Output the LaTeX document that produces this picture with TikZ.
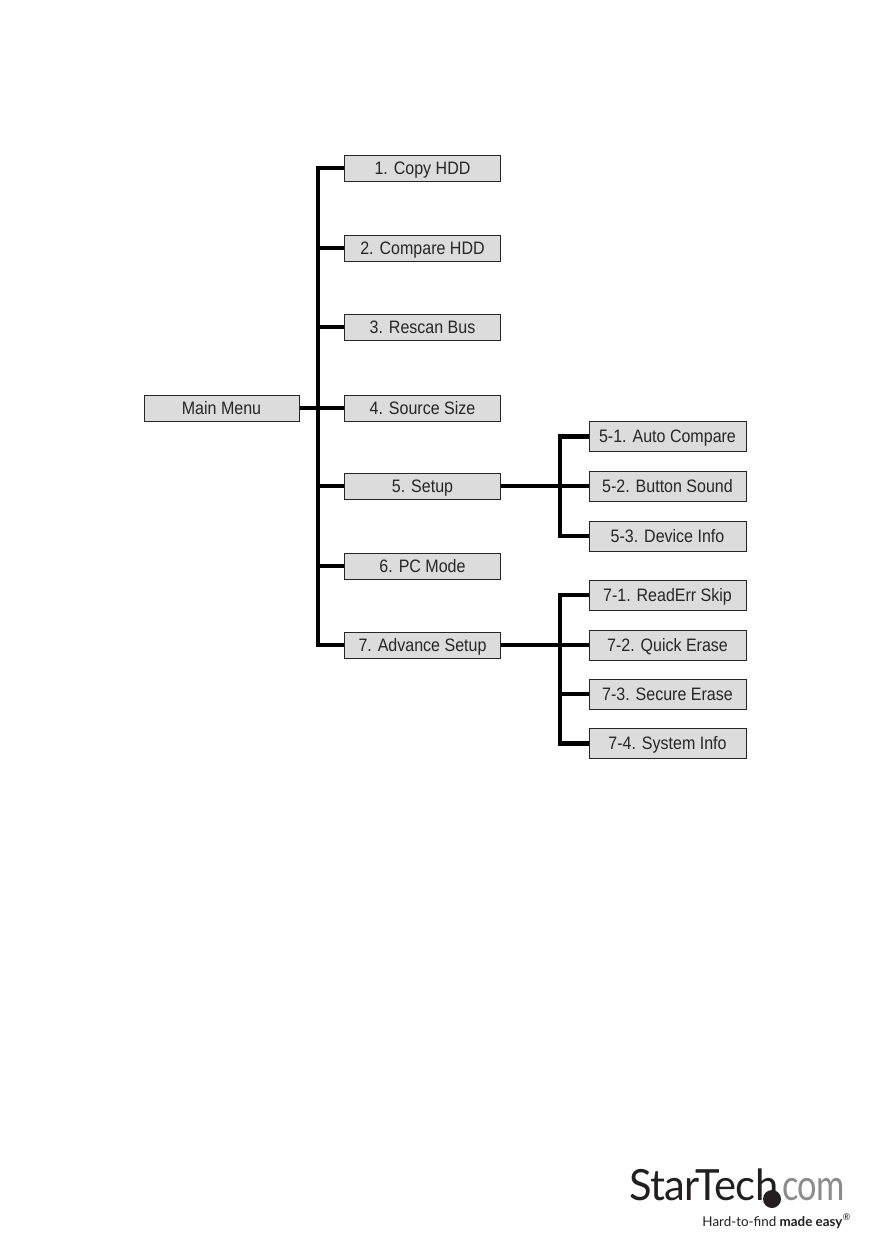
\documentclass[tikz,border=0pt]{standalone}
\usepackage{fontspec}
\setmainfont[FakeStretch=0.89]{Liberation Sans}
\newfontfamily\logofont[FakeStretch=0.97,LetterSpace=-1.5]{Lato}
\newfontfamily\comfont[FakeStretch=0.8,LetterSpace=-1.5]{Lato}
\newfontfamily\tagfont{Lato}
\definecolor{boxgray}{HTML}{DCDCDC}
\definecolor{logogray}{HTML}{8C8C8C}
\definecolor{logoblack}{HTML}{231F20}
\tikzset{
menubox/.style={draw=black!85,fill=boxgray,line width=1pt,inner sep=0pt,text=black!85,text height=15.6pt,text depth=3pt,font=\fontsize{18}{20}\selectfont},
mainbox/.style={menubox,minimum width=156pt,minimum height=26pt},
subbox/.style={menubox,minimum width=157pt,minimum height=30pt},
bus/.style={line width=4.5pt,line cap=butt,line join=miter}
}
\begin{document}
\begin{tikzpicture}[x=1pt,y=-1pt]
\useasboundingbox (0,0) rectangle (893,1259);
\node[mainbox,minimum width=155pt](main) at (221.5,408){Main Menu};
\node[mainbox](copy) at (422.5,168){1. Copy HDD};
\node[mainbox](compare) at (422.5,248){2. Compare HDD};
\node[mainbox](rescan) at (422.5,327){3. Rescan Bus};
\node[mainbox](source) at (422.5,408){4. Source Size};
\node[mainbox](setup) at (422.5,486){5. Setup};
\node[mainbox](pcmode) at (422.5,566){6. PC Mode};
\node[mainbox](advance) at (422.5,645){7. Advance Setup};
\node[subbox](auto) at (667.5,436.5){5-1. Auto Compare};
\node[subbox](button) at (667.5,486){5-2. Button Sound};
\node[subbox](device) at (667.5,536){5-3. Device Info};
\node[subbox](readerr) at (667.5,595){7-1. ReadErr Skip};
\node[subbox](quick) at (667.5,645){7-2. Quick Erase};
\node[subbox](secure) at (667.5,694){7-3. Secure Erase};
\node[subbox](system) at (667.5,743.5){7-4. System Info};
\coordinate (trunktop) at (318,168);
\coordinate (trunkbot) at (318,645);
\coordinate (setuptop) at (560,436.5);
\coordinate (setupbot) at (560,536);
\coordinate (advtop) at (560,595);
\coordinate (advbot) at (560,743.5);
\draw[bus](copy.west) -- (trunktop) -- (trunkbot) -- (advance.west);
\draw[bus](main.east) -- (source.west);
\draw[bus](compare.west) -- (compare.west -| trunktop);
\draw[bus](rescan.west) -- (rescan.west -| trunktop);
\draw[bus](setup.west) -- (setup.west -| trunktop);
\draw[bus](pcmode.west) -- (pcmode.west -| trunktop);
\draw[bus](auto.west) -- (setuptop) -- (setupbot) -- (device.west);
\draw[bus](setup.east) -- (button.west);
\draw[bus](readerr.west) -- (advtop) -- (advbot) -- (system.west);
\draw[bus](advance.east) -- (quick.west);
\draw[bus](secure.west) -- (secure.west -| advtop);
\node[anchor=base west,inner sep=0pt,text=logoblack,font=\logofont\fontsize{43}{50}\selectfont](logoname) at (629,1200){StarTech};
\node[circle,fill=logoblack,inner sep=0pt,minimum size=18pt](logodot) at (772,1199){};
\node[anchor=base west,inner sep=0pt,text=logogray,font=\comfont\fontsize{43}{50}\selectfont](logocom) at (782,1200){com};
\node[anchor=base east,inner sep=0pt,text=logoblack,font=\tagfont\fontsize{13.4}{15}\selectfont](logotag) at (851,1226){Hard-to-find \textbf{made easy}\textsuperscript{\textregistered}};
\end{tikzpicture}
\end{document}
